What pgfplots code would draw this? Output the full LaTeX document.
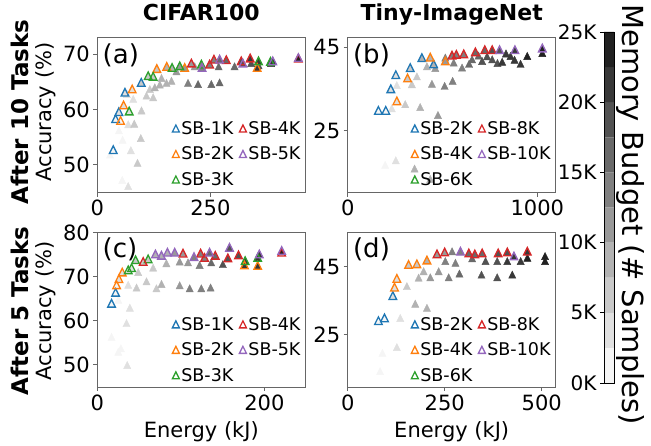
\documentclass[border=0pt]{standalone}
\usepackage{fontspec}
\setmainfont{DejaVu Sans}
\usepackage{pgfplots}
\pgfplotsset{compat=1.18}

\definecolor{c1}{HTML}{1F77B4}
\definecolor{c2}{HTML}{FF7F0E}
\definecolor{c3}{HTML}{2CA02C}
\definecolor{c4}{HTML}{D62728}
\definecolor{c5}{HTML}{9467BD}
\definecolor{g1}{gray}{0.96}
\definecolor{g2}{gray}{0.88}
\definecolor{g3}{gray}{0.79}
\definecolor{g4}{gray}{0.70}
\definecolor{g5}{gray}{0.60}
\definecolor{g6}{gray}{0.50}
\definecolor{g7}{gray}{0.41}
\definecolor{g8}{gray}{0.32}
\definecolor{g9}{gray}{0.22}
\definecolor{g10}{gray}{0.13}

% matplotlib-like triangle (width = height)
\pgfdeclareplotmark{trif}{%
  \pgfpathmoveto{\pgfqpoint{0pt}{\pgfplotmarksize}}%
  \pgfpathlineto{\pgfqpoint{-\pgfplotmarksize}{-\pgfplotmarksize}}%
  \pgfpathlineto{\pgfqpoint{\pgfplotmarksize}{-\pgfplotmarksize}}%
  \pgfpathclose\pgfusepathqfillstroke}
\pgfdeclareplotmark{trio}{%
  \pgfpathmoveto{\pgfqpoint{0pt}{\pgfplotmarksize}}%
  \pgfpathlineto{\pgfqpoint{-\pgfplotmarksize}{-\pgfplotmarksize}}%
  \pgfpathlineto{\pgfqpoint{\pgfplotmarksize}{-\pgfplotmarksize}}%
  \pgfpathclose\pgfusepathqstroke}

\tikzset{sbleg/.style={only marks, mark=trio, mark size=3.5pt, draw=#1, line width=1.3pt}}

\pgfplotsset{
  panel/.style={
    scale only axis, width=208pt, height=155pt, anchor=south west,
    clip mode=individual,
    axis line style={black!60, line width=0.8pt},
    tick style={black!60, line width=0.8pt}, major tick length=4pt, tick align=outside,
    xtick pos=bottom, ytick pos=left,
    ticklabel style={font=\fontsize{21}{21}\selectfont},
    /pgf/number format/assume math mode=true,
    /pgf/number format/1000 sep={},
    scaled ticks=false,
    legend columns=2, legend cell align=left,
    legend style={draw=none, fill=none, font=\fontsize{17.5}{17.5}\selectfont,
      anchor=north west, inner sep=0pt, row sep=7pt,
      /tikz/every even column/.append style={column sep=4pt}},
    legend image code/.code={\draw[##1] plot coordinates {(0pt,0pt)};},
    title style={font=\bfseries\fontsize{22}{22}\selectfont, at={(0.5,1)}, anchor=base, yshift=11pt},
    ylabel style={font=\fontsize{21}{21}\selectfont, at={(axis description cs:-0.25,0.52)}, anchor=center},
    xlabel style={font=\fontsize{21}{21}\selectfont, at={(axis description cs:0.5,-0.29)}, anchor=center},
  },
  grays/.style={only marks, scatter, scatter src=explicit symbolic, mark size=3.6pt, forget plot,
    scatter/classes={1={mark=trif,g1},2={mark=trif,g2},3={mark=trif,g3},4={mark=trif,g4},
      5={mark=trif,g5},6={mark=trif,g6},7={mark=trif,g7},8={mark=trif,g8},
      9={mark=trif,g9},10={mark=trif,g10}}},
  sb/.style={only marks, mark=trio, mark size=3.8pt, color=#1, line width=1.3pt, forget plot},
}

\begin{document}
\begin{tikzpicture}
\path[use as bounding box] (0,0) rectangle (651pt,446pt);

% ---------------- (a) CIFAR100, after 10 tasks
\begin{axis}[panel, at={(97.3pt,253.3pt)},
  xmin=0, xmax=460, ymin=44.9, ymax=73.0,
  xtick={0,250}, ytick={50,60,70},
  title={CIFAR100}, ylabel={Accuracy (\%)},
  legend style={at={(0.36,0.475)}}]
\addplot[grays] table[meta=c] {
x y c
28.0 51.8 1
47.8 56.2 1
55.9 54.5 1
55.2 47.2 1
68.4 46.1 2
74.3 52.6 2
65.5 62.8 2
68.4 57.3 2
81.7 57.4 3
79.4 61.9 2
89.0 50.3 3
96.3 54.8 3
97.8 59.8 3
108.8 62.5 3
123.5 62.2 3
116.2 63.7 3
127.2 64.0 4
141.9 65.7 4
153.0 64.8 4
164.0 65.2 4
138.2 64.5 4
175.0 66.9 5
200.7 64.8 6
222.8 64.6 7
252.1 64.6 7
270.5 64.9 7
215.4 67.8 5
268.3 67.8 7
303.6 67.8 7
340.3 68.4 8
356.5 68.0 8
384.4 68.4 9
35.3 52.7 1
40.5 58.3 1
47.8 59.6 2
61.1 63.1 2
97.1 64.9 3
51.5 58.0 1
58.1 60.8 2
77.2 63.7 2
131.6 67.4 3
153.7 67.8 4
193.3 67.6 5
353.5 67.6 9
70.6 59.7 2
112.5 66.1 3
123.5 66.0 3
165.4 67.6 4
182.3 67.9 5
230.1 68.2 6
356.5 68.8 9
383.0 68.7 9
208.0 68.4 5
248.5 68.2 6
258.0 69.1 6
285.2 69.0 7
318.3 68.8 8
338.1 69.3 9
231.6 67.6 6
270.5 69.1 7
322.0 68.4 8
388.1 68.8 9
444.7 69.3 10
};
\addplot[sb=c1] table {
35.3 52.7
40.5 58.3
47.8 59.6
61.1 63.1
97.1 64.9
};
\addplot[sb=c2] table {
51.5 58.0
58.1 60.8
77.2 63.7
131.6 67.4
153.7 67.8
193.3 67.6
353.5 67.6
};
\addplot[sb=c3] table {
70.6 59.7
112.5 66.1
123.5 66.0
165.4 67.6
182.3 67.9
230.1 68.2
356.5 68.8
383.0 68.7
};
\addplot[sb=c4] table {
208.0 68.4
248.5 68.2
258.0 69.1
285.2 69.0
318.3 68.8
338.1 69.3
444.7 69.3
};
\addplot[sb=c5] table {
231.6 67.6
270.5 69.1
322.0 68.4
388.1 68.8
444.7 69.4
};
\addlegendimage{sbleg=c1}\addlegendentry{SB-1K}
\addlegendimage{sbleg=c4}\addlegendentry{SB-4K}
\addlegendimage{sbleg=c2}\addlegendentry{SB-2K}
\addlegendimage{sbleg=c5}\addlegendentry{SB-5K}
\addlegendimage{sbleg=c3}\addlegendentry{SB-3K}
\node[anchor=north west, inner sep=0pt, font=\fontsize{26}{26}\selectfont] at (rel axis cs:0.025,0.965) {(a)};
\node[rotate=90, font=\bfseries\fontsize{23}{23}\selectfont] at (rel axis cs:-0.37,0.52) {After 10 Tasks};
\end{axis}

% ---------------- (b) Tiny-ImageNet, after 10 tasks
\begin{axis}[panel, at={(347.7pt,253.3pt)},
  xmin=0, xmax=1097, ymin=10, ymax=47.3,
  xtick={0,1000}, ytick={25,45},
  title={Tiny-ImageNet},
  legend style={at={(0.305,0.475)}}]
\addplot[grays] table[meta=c] {
x y c
197.5 16.7 1
253.8 17.8 2
352.5 15.8 4
435.4 13.3 4
259.1 35.9 2
232.6 30.3 2
303.2 31.3 3
382.5 30.6 4
476.0 28.7 5
338.4 36.1 3
364.9 38.0 3
444.3 36.2 5
511.3 35.7 6
553.6 36.9 6
417.8 40.4 4
461.9 40.0 5
514.8 42.5 6
558.9 41.3 6
603.0 40.1 6
640.0 41.0 7
655.9 42.1 7
690.0 43.0 7
708.8 41.7 8
735.0 42.8 8
761.9 42.1 8
790.0 41.2 8
814.5 41.5 9
835.0 43.5 9
858.8 42.9 9
880.0 42.0 9
911.6 41.0 9
947.0 42.9 10
1026.3 43.6 10
162.0 29.8 1
200.9 29.8 1
227.3 35.0 2
253.8 38.4 2
329.6 40.1 3
391.4 42.5 4
453.1 41.0 4
259.1 32.1 2
315.5 37.6 3
435.4 42.6 4
514.8 41.7 5
550.1 43.1 6
573.0 43.3 6
611.8 43.4 6
673.5 43.9 7
723.1 44.4 7
761.9 44.4 8
800.7 44.4 8
881.8 44.4 9
1026.3 44.8 10
};
\addplot[sb=c1] table {
162.0 29.8
200.9 29.8
227.3 35.0
253.8 38.4
329.6 40.1
391.4 42.5
453.1 41.0
};
\addplot[sb=c2] table {
259.1 32.1
315.5 37.6
435.4 42.6
514.8 41.7
};
\addplot[sb=c4] table {
550.1 43.1
573.0 43.3
611.8 43.4
673.5 43.9
723.1 44.4
761.9 44.4
};
\addplot[sb=c5] table {
800.7 44.4
881.8 44.4
1026.3 44.8
};
\addlegendimage{sbleg=c1}\addlegendentry{SB-2K}
\addlegendimage{sbleg=c4}\addlegendentry{SB-8K}
\addlegendimage{sbleg=c2}\addlegendentry{SB-4K}
\addlegendimage{sbleg=c5}\addlegendentry{SB-10K}
\addlegendimage{sbleg=c3}\addlegendentry{SB-6K}
\node[anchor=north west, inner sep=0pt, font=\fontsize{26}{26}\selectfont] at (rel axis cs:0.025,0.965) {(b)};
\end{axis}

% ---------------- (c) CIFAR100, after 5 tasks
\begin{axis}[panel, at={(97.3pt,59pt)},
  xmin=0, xmax=249, ymin=44.9, ymax=80.1,
  xtick={0,200}, ytick={50,60,70,80},
  ylabel={Accuracy (\%)}, xlabel={Energy (kJ)},
  ylabel style={at={(axis description cs:-0.25,0.49)}},
  legend style={at={(0.36,0.465)}}]
\addplot[grays] table[meta=c] {
x y c
17.1 56.3 1
25.1 52.9 1
28.3 53.7 1
35.8 49.9 2
35.0 59.4 2
39.0 62.9 2
25.1 64.7 1
37.0 68.1 2
47.0 67.5 3
58.9 68.9 3
70.8 67.3 3
76.8 68.3 4
98.6 68.0 5
110.6 67.3 6
124.5 67.3 6
135.6 67.5 6
48.9 71.0 3
66.8 72.0 3
82.7 73.0 4
98.6 73.4 5
108.6 73.2 5
122.5 72.6 6
136.4 73.2 7
150.3 72.8 8
17.1 63.9 1
21.9 66.4 1
23.1 68.1 1
25.9 69.5 2
29.9 71.0 2
176.2 72.6 9
192.0 72.5 9
37.0 71.5 2
41.0 72.0 2
45.8 73.8 3
60.9 74.0 3
177.0 73.6 9
192.0 74.3 9
54.9 73.4 3
102.6 75.3 5
123.7 75.3 6
128.4 74.3 6
141.2 74.8 7
156.3 74.2 8
169.0 74.9 8
69.6 75.1 4
76.8 74.8 4
83.9 75.5 4
92.7 75.5 5
115.7 74.5 6
134.4 75.5 7
158.3 76.6 8
194.0 75.1 9
220.7 75.7 10
};
\addplot[sb=c1] table {
17.1 63.9
21.9 66.4
};
\addplot[sb=c2] table {
23.1 68.1
25.9 69.5
29.9 71.0
176.2 72.6
192.0 72.5
};
\addplot[sb=c3] table {
37.0 71.5
41.0 72.0
45.8 73.8
60.9 74.0
177.0 73.6
192.0 74.3
};
\addplot[sb=c4] table {
54.9 73.4
102.6 75.3
123.7 75.3
128.4 74.3
141.2 74.8
156.3 74.2
169.0 74.9
220.7 75.5
};
\addplot[sb=c5] table {
69.6 75.1
76.8 74.8
83.9 75.5
92.7 75.5
115.7 74.5
134.4 75.5
158.3 76.6
194.0 75.1
220.7 75.9
};
\addlegendimage{sbleg=c1}\addlegendentry{SB-1K}
\addlegendimage{sbleg=c4}\addlegendentry{SB-4K}
\addlegendimage{sbleg=c2}\addlegendentry{SB-2K}
\addlegendimage{sbleg=c5}\addlegendentry{SB-5K}
\addlegendimage{sbleg=c3}\addlegendentry{SB-3K}
\node[anchor=north west, inner sep=0pt, font=\fontsize{26}{26}\selectfont] at (rel axis cs:0.025,0.965) {(c)};
\node[rotate=90, font=\bfseries\fontsize{23}{23}\selectfont] at (rel axis cs:-0.37,0.49) {After 5 Tasks};
\end{axis}

% ---------------- (d) Tiny-ImageNet, after 5 tasks
\begin{axis}[panel, at={(347.7pt,59pt)},
  xmin=0, xmax=536, ymin=9.5, ymax=55.3,
  xtick={0,250,500}, ytick={25,45},
  xlabel={Energy (kJ)},
  legend style={at={(0.305,0.465)}}]
\addplot[grays] table[meta=c] {
x y c
83.5 14.2 1
89.6 19.6 1
126.7 21.3 2
135.3 29.9 2
174.1 34.1 4
204.2 32.9 4
152.6 39.3 3
182.7 41.8 4
212.9 41.9 5
234.4 43.7 5
260.3 41.9 6
287.9 43.0 7
344.8 42.7 8
385.3 41.9 8
424.1 42.7 9
195.7 43.7 4
251.6 46.7 6
268.9 49.6 6
277.6 46.2 6
320.7 47.5 7
355.2 46.7 8
385.3 46.7 8
411.2 46.7 9
445.7 46.7 9
462.9 47.7 10
508.6 48.2 10
508.6 46.7 10
79.2 29.1 1
94.8 29.9 1
116.3 36.5 2
120.7 39.0 2
126.6 41.6 2
156.9 45.7 3
178.3 45.9 3
204.2 47.0 4
230.1 48.8 5
249.9 49.4 5
312.0 49.1 7
327.6 48.8 7
346.5 49.1 7
387.9 49.1 8
411.2 49.4 8
462.9 49.6 9
290.5 49.6 6
428.4 48.2 9
};
\addplot[sb=c1] table {
79.2 29.1
94.8 29.9
116.3 36.5
};
\addplot[sb=c2] table {
120.7 39.0
126.6 41.6
156.9 45.7
178.3 45.9
204.2 47.0
};
\addplot[sb=c4] table {
230.1 48.8
249.9 49.4
312.0 49.1
327.6 48.8
346.5 49.1
387.9 49.1
411.2 49.4
462.9 49.6
};
\addplot[sb=c5] table {
290.5 49.6
428.4 48.2
};
\addlegendimage{sbleg=c1}\addlegendentry{SB-2K}
\addlegendimage{sbleg=c4}\addlegendentry{SB-8K}
\addlegendimage{sbleg=c2}\addlegendentry{SB-4K}
\addlegendimage{sbleg=c5}\addlegendentry{SB-10K}
\addlegendimage{sbleg=c3}\addlegendentry{SB-6K}
\node[anchor=north west, inner sep=0pt, font=\fontsize{26}{26}\selectfont] at (rel axis cs:0.025,0.965) {(d)};
\end{axis}

% ---------------- colour bar: memory budget
\begin{axis}[at={(604pt,63pt)}, anchor=south west, scale only axis, width=10pt, height=351pt,
  xmin=0, xmax=1, ymin=0, ymax=25, xtick=\empty,
  ytick={0,5,10,15,20,25}, yticklabels={0K,5K,10K,15K,20K,25K},
  ytick pos=left, tick align=outside, major tick length=4pt,
  tick style={black, line width=0.8pt},
  ticklabel style={font=\fontsize{20}{20}\selectfont},
  axis line style={black, line width=0.8pt}, axis on top,
  ylabel={Memory Budget (\# Samples)},
  ylabel style={font=\fontsize{29}{29}\selectfont, rotate=180, at={(axis description cs:2.6,0.48)}, anchor=center}]
\addplot[fill=g1, draw=none] coordinates {(0,0)(1,0)(1,2.5)(0,2.5)(0,0)};
\addplot[fill=g2, draw=none] coordinates {(0,2.5)(1,2.5)(1,5)(0,5)(0,2.5)};
\addplot[fill=g3, draw=none] coordinates {(0,5)(1,5)(1,7.5)(0,7.5)(0,5)};
\addplot[fill=g4, draw=none] coordinates {(0,7.5)(1,7.5)(1,10)(0,10)(0,7.5)};
\addplot[fill=g5, draw=none] coordinates {(0,10)(1,10)(1,12.5)(0,12.5)(0,10)};
\addplot[fill=g6, draw=none] coordinates {(0,12.5)(1,12.5)(1,15)(0,15)(0,12.5)};
\addplot[fill=g7, draw=none] coordinates {(0,15)(1,15)(1,17.5)(0,17.5)(0,15)};
\addplot[fill=g8, draw=none] coordinates {(0,17.5)(1,17.5)(1,20)(0,20)(0,17.5)};
\addplot[fill=g9, draw=none] coordinates {(0,20)(1,20)(1,22.5)(0,22.5)(0,20)};
\addplot[fill=g10, draw=none] coordinates {(0,22.5)(1,22.5)(1,25)(0,25)(0,22.5)};
\end{axis}
\end{tikzpicture}
\end{document}
